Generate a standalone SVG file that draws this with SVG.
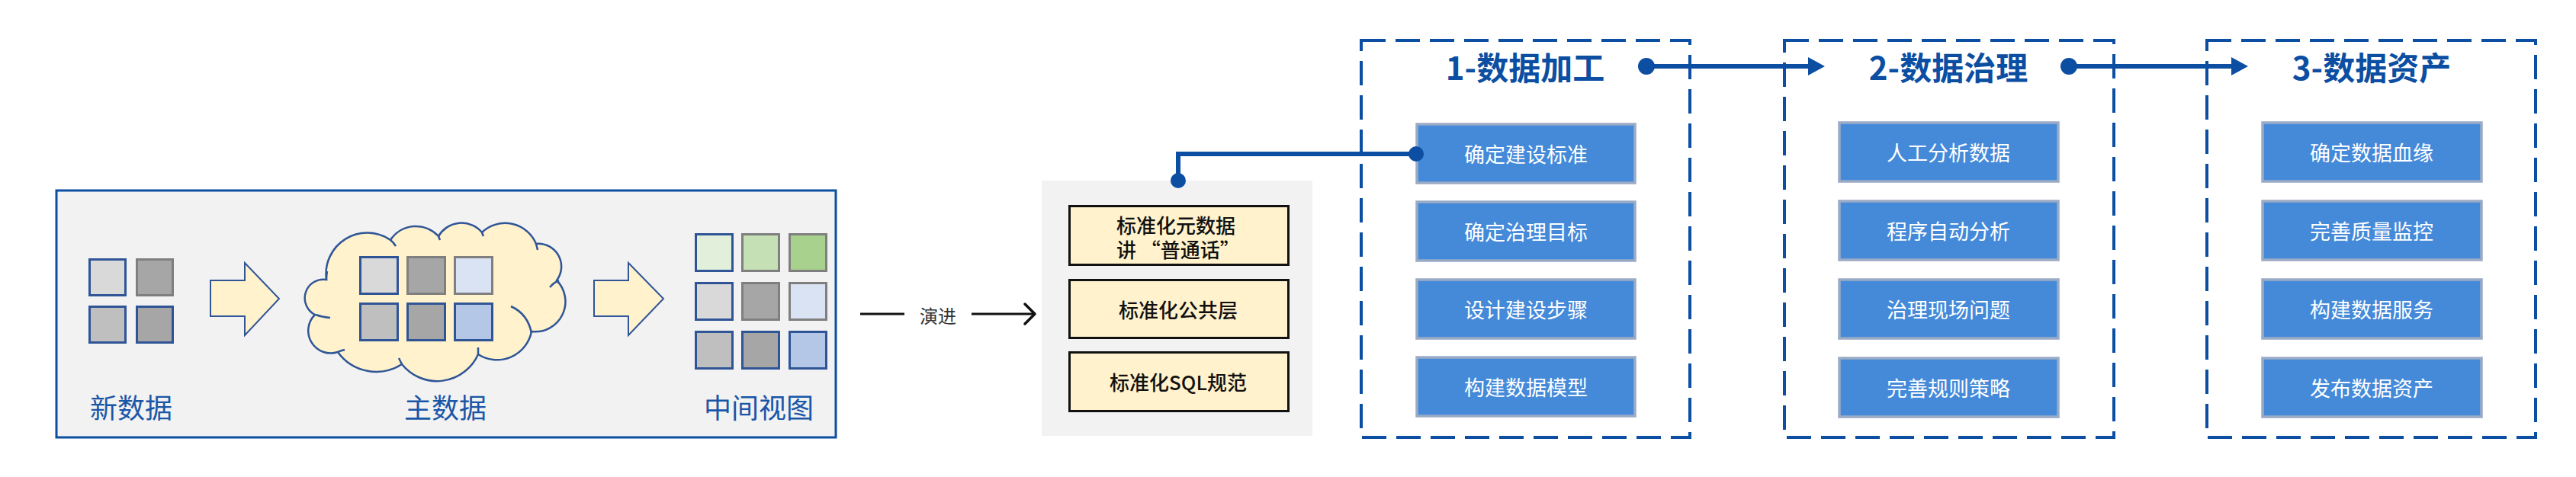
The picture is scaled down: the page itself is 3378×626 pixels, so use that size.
<svg xmlns="http://www.w3.org/2000/svg" width="3378" height="626" viewBox="0 0 3378 626">
<defs>
<style>
.cjk{font-family:"Noto Sans CJK SC","Liberation Sans",sans-serif;}
.lbl{font-size:36px;fill:#1a56a8;text-anchor:middle;dominant-baseline:central;}
.ytx{font-size:26px;font-weight:500;fill:#111;dominant-baseline:central;}
.itx{font-size:27px;fill:#fff;text-anchor:middle;dominant-baseline:central;}
.ttl{font-size:42px;font-weight:bold;fill:#0b4ea2;text-anchor:middle;dominant-baseline:central;}
.sqb{stroke:#2f5597;stroke-width:3;}
.sqg{stroke:#7f7f7f;stroke-width:3;}
.ybox{fill:#fff2cc;stroke:#111;stroke-width:3;}
.item{fill:#458ad9;stroke:#9aabc5;stroke-width:3.5;}
.dash{fill:none;stroke:#0b4ea2;stroke-width:4;stroke-dasharray:32 13;}
.blk{fill:#fff2cc;stroke:#2f5597;stroke-width:2;}
.cl{fill:none;stroke:#2f5597;stroke-width:2.5;}
.conn{fill:none;stroke:#0b4ea2;stroke-width:6;}
.dot{fill:#0b4ea2;}
</style>
<marker id="tri" markerUnits="userSpaceOnUse" viewBox="0 0 22 24" refX="4" refY="12" markerWidth="22" markerHeight="24" orient="auto">
<path d="M0,0 L22,12 L0,24 Z" fill="#0b4ea2"/>
</marker>
</defs>
<rect width="3378" height="626" fill="#ffffff"/>

<g id="evolution-panel">
<rect x="74" y="250" width="1022" height="324" fill="#f2f2f2" stroke="#0b4ea2" stroke-width="3"/>
</g>

<g id="new-data">
<rect class="sqb" x="117.5" y="340.5" width="47" height="47" fill="#d9d9d9"/>
<rect class="sqg" x="179.5" y="340.5" width="47" height="47" fill="#a6a6a6"/>
<rect class="sqb" x="117.5" y="402.5" width="47" height="47" fill="#bfbfbf"/>
<rect class="sqb" x="179.5" y="402.5" width="47" height="47" fill="#a6a6a6"/>
<text class="cjk lbl" x="172" y="533">新数据</text>
</g>

<g id="arrow-1">
<path class="blk" d="M276,368 H321 V345 L366,392 L321,440 V415 H276 Z"/>
</g>

<g id="master-data">
<path fill="#fff2cc" stroke="#2f5597" stroke-width="2.5" d="M428,367 A54,54 0 0 1 512,315 A40,40 0 0 1 575,310 A35,35 0 0 1 632,305 A44,44 0 0 1 703,320 A30,30 0 0 1 730,368 A39.5,39.5 0 0 1 697,435 A46,46 0 0 1 627,465 A59,59 0 0 1 527,478 A62,62 0 0 1 443,462 A29.5,29.5 0 0 1 413,413 A24.5,24.5 0 0 1 428,367 Z"/>
<path class="cl" d="M670,402 Q692,412 697,437 M414,413 Q422,416 433,417 M428,367 Q428,361 429,356 M512,315 Q516,318 519,323 M575,310 Q576,313 577,315 M632,305 Q633,308 634,310 M703,320 Q704,324 705,328 M721,377 Q726,371 733,368 M627,465 Q627,461 627,456 M527,478 Q525,474 523,470 M443,462 Q447,460 452,459"/>
<rect class="sqb" x="472.5" y="337.5" width="49" height="48" fill="#d9d9d9"/>
<rect class="sqg" x="534.5" y="337.5" width="49" height="48" fill="#a6a6a6"/>
<rect class="sqg" x="596.5" y="337.5" width="49" height="48" fill="#dae3f3"/>
<rect class="sqb" x="472.5" y="398.5" width="49" height="48" fill="#bfbfbf"/>
<rect class="sqb" x="534.5" y="398.5" width="49" height="48" fill="#a6a6a6"/>
<rect class="sqb" x="596.5" y="398.5" width="49" height="48" fill="#b4c7e7"/>
<text class="cjk lbl" x="584" y="533">主数据</text>
</g>

<g id="arrow-2">
<path class="blk" d="M779,368 H824 V345 L870,392 L824,440 V415 H779 Z"/>
</g>

<g id="middle-view">
<rect class="sqb" x="912.5" y="307.5" width="48" height="48" fill="#e2efda"/>
<rect class="sqg" x="973.5" y="307.5" width="48" height="48" fill="#c5e0b4"/>
<rect class="sqg" x="1035.5" y="307.5" width="48" height="48" fill="#a9d18e"/>
<rect class="sqb" x="912.5" y="371.5" width="48" height="48" fill="#d9d9d9"/>
<rect class="sqg" x="973.5" y="371.5" width="48" height="48" fill="#a6a6a6"/>
<rect class="sqg" x="1035.5" y="371.5" width="48" height="48" fill="#dae3f3"/>
<rect class="sqb" x="912.5" y="435.5" width="48" height="48" fill="#bfbfbf"/>
<rect class="sqb" x="973.5" y="435.5" width="48" height="48" fill="#a6a6a6"/>
<rect class="sqb" x="1035.5" y="435.5" width="48" height="48" fill="#b4c7e7"/>
<text class="cjk lbl" x="995" y="533">中间视图</text>
</g>

<g id="standardization">
<rect x="1366" y="237" width="355" height="335" fill="#f2f2f2"/>
<rect class="ybox" x="1402.5" y="270.5" width="287" height="77"/>
<text class="cjk ytx" x="1464" y="294">标准化元数据</text>
<text class="cjk ytx" x="1464" y="326">讲 “普通话”</text>
<rect class="ybox" x="1402.5" y="367.5" width="287" height="76"/>
<text class="cjk ytx" x="1545" y="405" text-anchor="middle">标准化公共层</text>
<rect class="ybox" x="1402.5" y="462.5" width="287" height="77"/>
<text class="cjk ytx" x="1545" y="500" text-anchor="middle">标准化SQL规范</text>
</g>

<g id="stage-1">
<rect class="dash" x="1785" y="53" width="431" height="521"/>
<text class="cjk ttl" x="2000" y="86">1-数据加工</text>
<rect class="item" x="1858" y="163" width="286" height="77"/>
<text class="cjk itx" x="2001" y="201">确定建设标准</text>
<rect class="item" x="1858" y="265" width="286" height="77"/>
<text class="cjk itx" x="2001" y="303">确定治理目标</text>
<rect class="item" x="1858" y="367" width="286" height="77"/>
<text class="cjk itx" x="2001" y="405">设计建设步骤</text>
<rect class="item" x="1858" y="469" width="286" height="77"/>
<text class="cjk itx" x="2001" y="507">构建数据模型</text>
</g>

<g id="stage-2">
<rect class="dash" x="2340" y="53" width="432" height="521"/>
<text class="cjk ttl" x="2555" y="86">2-数据治理</text>
<rect class="item" x="2412" y="161" width="287" height="77"/>
<text class="cjk itx" x="2555" y="199">人工分析数据</text>
<rect class="item" x="2412" y="264" width="287" height="77"/>
<text class="cjk itx" x="2555" y="302">程序自动分析</text>
<rect class="item" x="2412" y="367" width="287" height="77"/>
<text class="cjk itx" x="2555" y="405">治理现场问题</text>
<rect class="item" x="2412" y="470" width="287" height="77"/>
<text class="cjk itx" x="2555" y="508">完善规则策略</text>
</g>

<g id="stage-3">
<rect class="dash" x="2894" y="53" width="431" height="521"/>
<text class="cjk ttl" x="3110" y="86">3-数据资产</text>
<rect class="item" x="2967" y="161" width="287" height="77"/>
<text class="cjk itx" x="3110" y="199">确定数据血缘</text>
<rect class="item" x="2967" y="264" width="287" height="77"/>
<text class="cjk itx" x="3110" y="302">完善质量监控</text>
<rect class="item" x="2967" y="367" width="287" height="77"/>
<text class="cjk itx" x="3110" y="405">构建数据服务</text>
<rect class="item" x="2967" y="470" width="287" height="77"/>
<text class="cjk itx" x="3110" y="508">发布数据资产</text>
</g>

<g id="connectors">
<path d="M1128,412 H1186" stroke="#111" stroke-width="3" fill="none"/>
<text class="cjk" x="1230" y="413" font-size="24" fill="#333" text-anchor="middle" dominant-baseline="central">演进</text>
<path d="M1274,412 H1356" stroke="#111" stroke-width="3" fill="none"/>
<polyline points="1344,399 1357,412 1344,425" stroke="#111" stroke-width="3.5" fill="none" stroke-linecap="round" stroke-linejoin="round"/>
<path class="conn" d="M1545,237 V202 H1857" stroke-width="5"/>
<circle class="dot" cx="1545" cy="237" r="10"/>
<circle class="dot" cx="1857" cy="202" r="10"/>
<path class="conn" d="M2159,87 H2375" marker-end="url(#tri)"/>
<circle class="dot" cx="2159" cy="87" r="11"/>
<path class="conn" d="M2713,87 H2930" marker-end="url(#tri)"/>
<circle class="dot" cx="2713" cy="87" r="11"/>
</g>
</svg>
